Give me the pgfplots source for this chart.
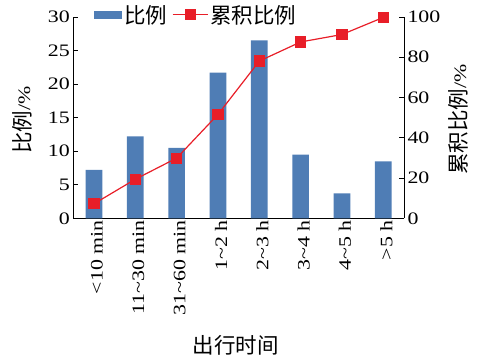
\documentclass[border=0pt]{standalone}
\usepackage{fontspec}
\setmainfont{Liberation Serif}[FakeStretch=1.25]
\newfontfamily\cjk{Noto Sans CJK SC}
\usepackage{pgfplots}
\pgfplotsset{compat=1.18}
\definecolor{barblue}{RGB}{79,125,181}
\definecolor{linered}{RGB}{232,30,40}
\newcommand\zh[1]{{\cjk\fontsize{21.5}{21.5}\selectfont #1}}

\begin{document}
\begin{tikzpicture}[x=1pt,y=1pt]
\path[use as bounding box] (0,0) rectangle (480,359);
\pgfplotsset{
  common/.style={
    scale only axis, width=330.7pt, height=201.3pt,
    at={(73.3pt,140.7pt)}, anchor=south west,
    xmin=-0.5, xmax=7.5,
    font=\fontsize{17.5}{19}\selectfont,
    tick align=inside, major tick length=4.5pt,
    /pgf/number format/assume math mode=true,
    axis line style={line width=0.8pt,-},
    major tick style={line width=0.8pt,black},
    tick label style={black},
  }
}
% proportion per travel-time class (left axis)
\begin{axis}[common,
  axis y line*=left, axis x line*=bottom,
  ymin=0, ymax=30, ytick={0,5,...,30},
  xtick={0,...,7}, xtick style={draw=none},
  xticklabels={<10 min,11\char`~30 min,31\char`~60 min,1\char`~2 h,2\char`~3 h,3\char`~4 h,4\char`~5 h,>5 h},
  xticklabel style={rotate=90, anchor=east, inner sep=2pt, yshift=-3pt},
  every axis y label/.style={at={(axis description cs:-0.155,0.488)}, rotate=90, anchor=center},
  ylabel={\zh{比例}/\%},
  every axis x label/.style={at={(axis description cs:0.491,-0.629)}, anchor=center},
  xlabel={\zh{出行时间}},
]
\addplot[ybar, bar width=16.7pt, fill=barblue, draw=none, bar shift=0pt]
  coordinates {(0,7.2) (1,12.2) (2,10.5) (3,21.7) (4,26.5) (5,9.5) (6,3.7) (7,8.5)};
\end{axis}
% cumulative proportion (right axis)
\begin{axis}[common,
  axis y line*=right, axis x line=none,
  ymin=0, ymax=100, ytick={0,20,...,100},
  every axis y label/.style={at={(axis description cs:1.163,0.49)}, rotate=90, anchor=center},
  ylabel={\zh{累积比例}/\%},
  legend columns=2,
  legend style={at={(axis description cs:0.062,1.07)}, anchor=north west, draw=none, fill=none,
    inner sep=0pt, font=\fontsize{17.5}{19}\selectfont,
    /tikz/every even column/.append style={column sep=3pt}},
  legend cell align=left,
]
\addlegendimage{area legend, fill=barblue, draw=none,
  legend image code/.code={\fill[barblue] (0pt,-4pt) rectangle (28pt,4pt);}}
\addlegendentry{\zh{比例}}
\addplot[linered, line width=1.2pt, mark=square*, mark size=5pt,
  mark options={fill=linered, draw=linered},
  legend image code/.code={\draw[linered, line width=1.2pt] (0pt,0pt) -- (35pt,0pt);
    \fill[linered] (13pt,-5pt) rectangle (23pt,5pt);}]
  coordinates {(0,7.2) (1,19.4) (2,29.9) (3,51.6) (4,78.1) (5,87.6) (6,91.3) (7,99.8)};
\addlegendentry{\zh{累积比例}}
\end{axis}
\end{tikzpicture}
\end{document}
